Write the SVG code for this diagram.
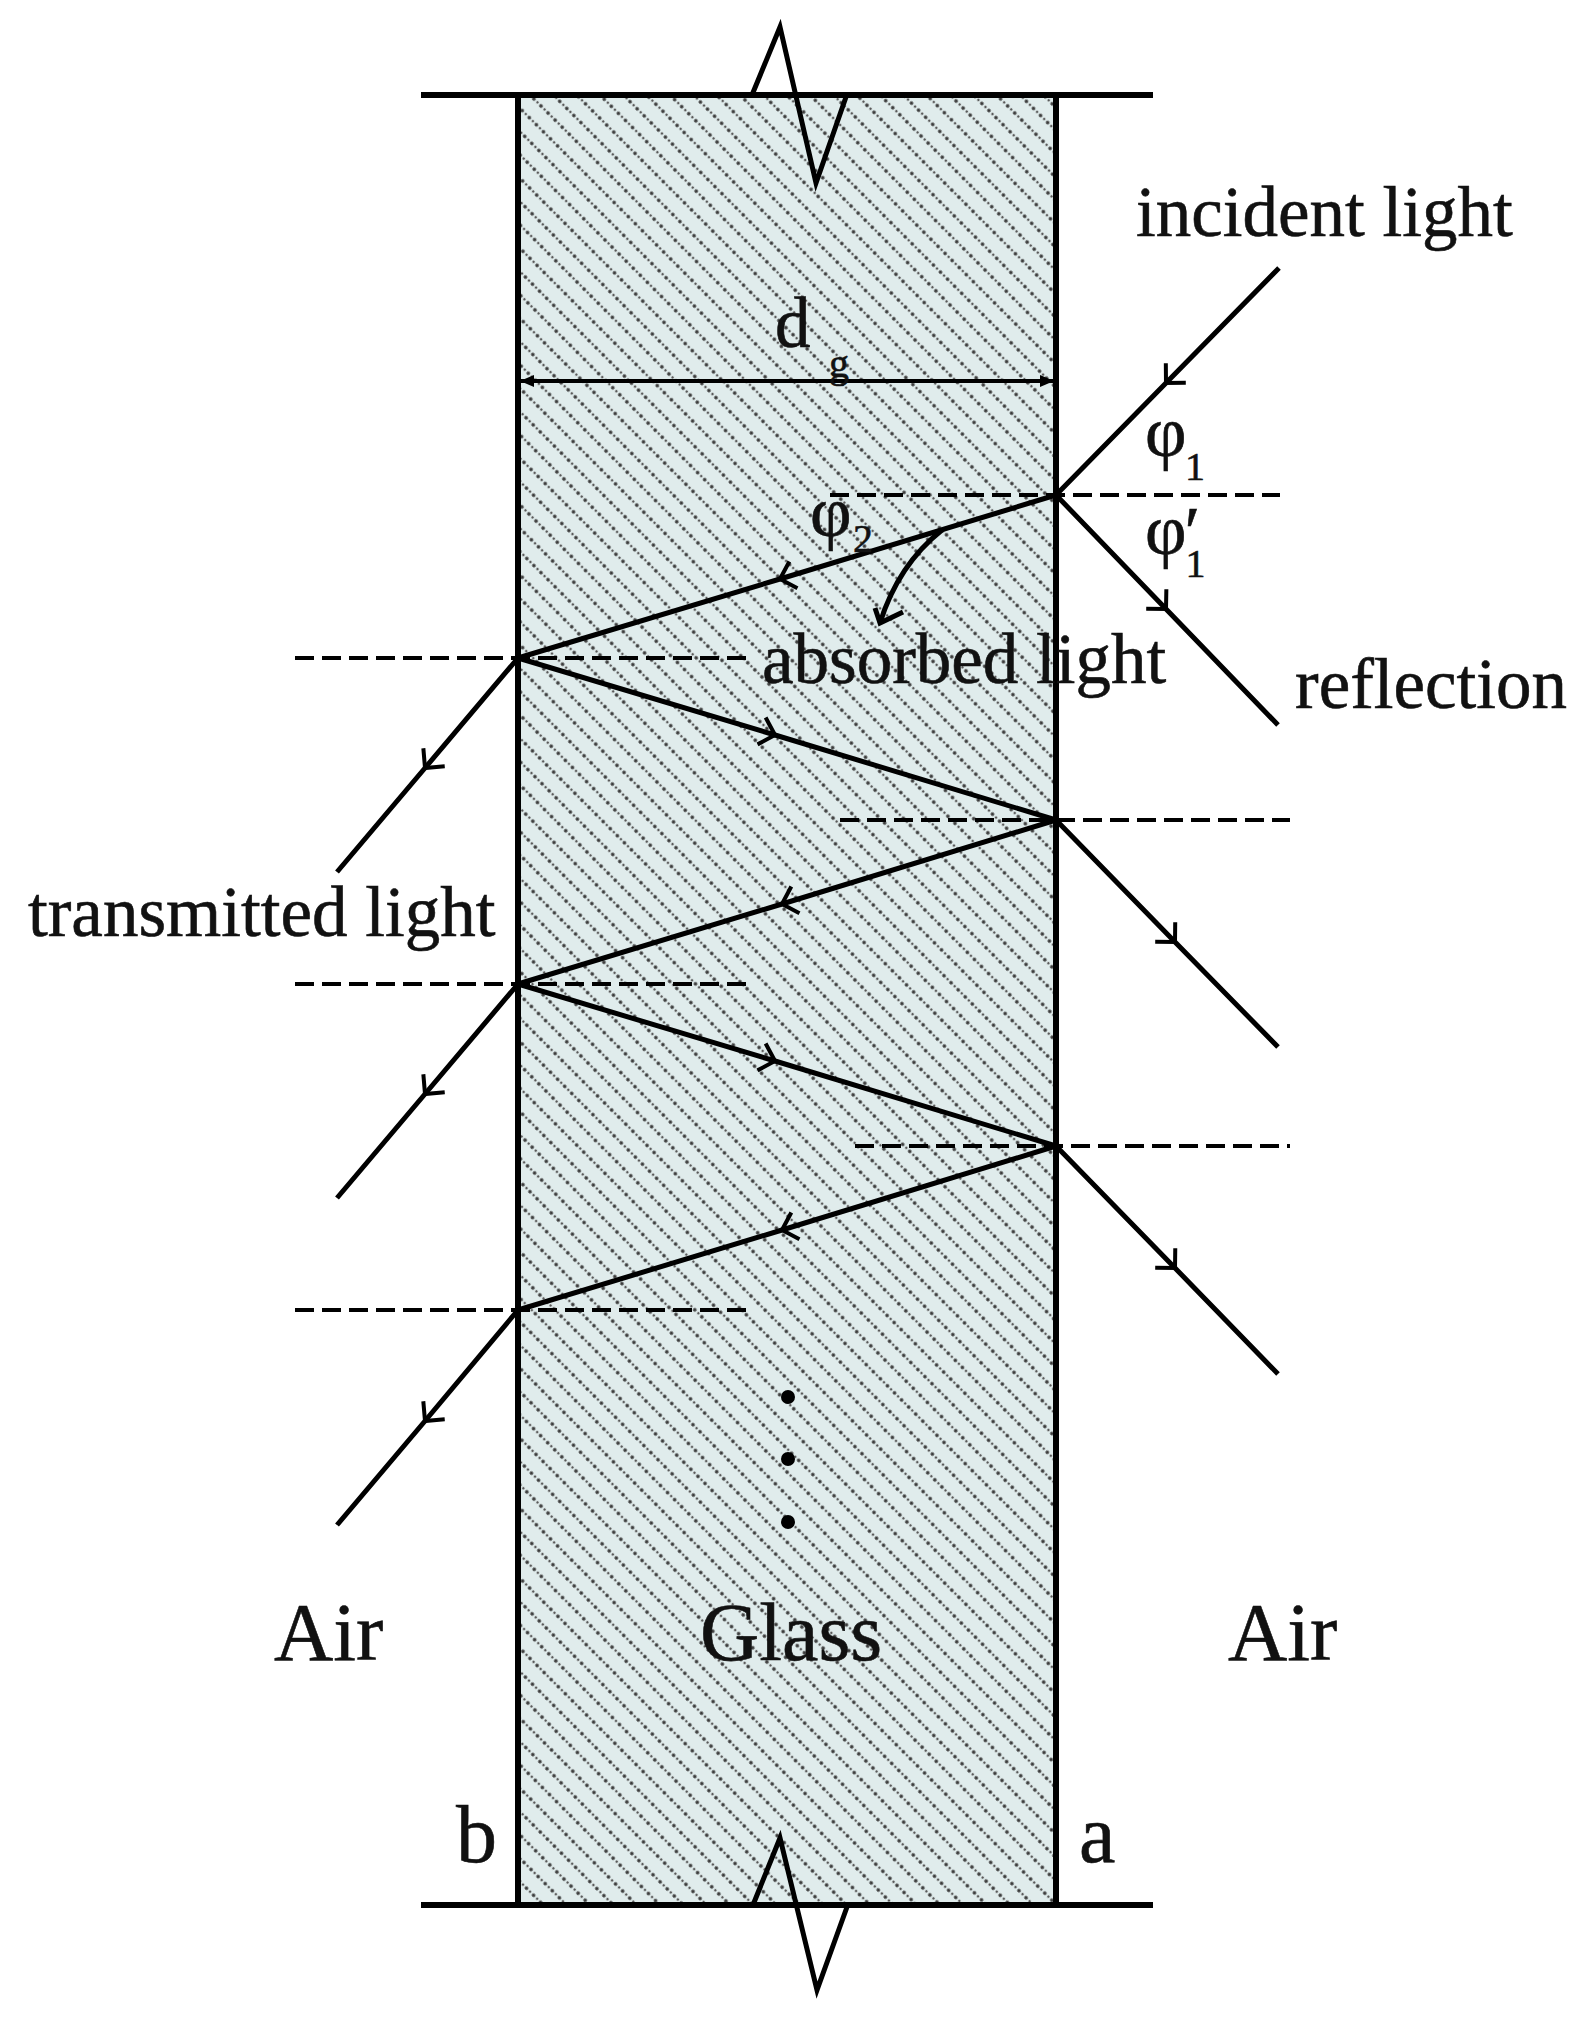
<svg xmlns="http://www.w3.org/2000/svg" width="1593" height="2019" viewBox="0 0 1593 2019">
<style>
.l{fill:none;stroke:#000;stroke-width:5}
.w{fill:none;stroke:#000;stroke-width:6}
.r{fill:none;stroke:#000;stroke-width:5;marker-mid:url(#v)}
.d{fill:none;stroke:#000;stroke-width:4;stroke-dasharray:19 8}
text{font-family:"Liberation Serif","Times New Roman",serif;fill:#111;stroke:#111;stroke-width:.6}
.t{font-size:71px}
.b{font-size:82px}
.s{font-size:40px}
.p{font-size:72px}
</style>
<defs>
<pattern id="h" width="10" height="16.5" patternUnits="userSpaceOnUse" patternTransform="rotate(45 518 95)">
<rect width="10" height="16.5" fill="#e0ecec"/>
<circle cx="2" cy="4" r="1.9" fill="#3c3c3c"/>
<circle cx="7" cy="4" r="1.3" fill="#5a5a5a"/>
</pattern>
<marker id="v" markerUnits="userSpaceOnUse" markerWidth="40" markerHeight="40" refX="20" refY="20" orient="auto" overflow="visible">
<path d="M6,6 L20,20 L6,34" fill="none" stroke="#000" stroke-width="4"/>
</marker>
<marker id="e" markerUnits="userSpaceOnUse" markerWidth="16" markerHeight="16" refX="14" refY="8" orient="auto-start-reverse">
<path d="M0,2 L14,8 L0,14 Z" fill="#000"/>
</marker>
</defs>
<g id="glass"><rect x="518" y="95" width="538" height="1810" fill="url(#h)"/></g>
<g id="connectors">
<path class="d" d="M830,495H1280M295,658H750M840,820H1290M295,984H750M855,1146H1290M295,1310H750"/>
<polyline class="r" points="1279,268 1166,383 1056,495"/>
<polyline class="r" points="1056,495 1166,609 1278,725"/>
<polyline class="r" points="1056,495 780,579 518,658"/>
<polyline class="r" points="518,658 775,735 1056,820"/>
<polyline class="r" points="1056,820 782,904 518,984"/>
<polyline class="r" points="518,984 775,1061 1056,1146"/>
<polyline class="r" points="1056,1146 782,1230 518,1310"/>
<polyline class="r" points="518,658 425,768 337,872"/>
<polyline class="r" points="518,984 425,1094 337,1198"/>
<polyline class="r" points="518,1310 425,1421 337,1525"/>
<polyline class="r" points="1056,820 1175,942 1278,1047"/>
<polyline class="r" points="1056,1146 1175,1268 1278,1374"/>
<path d="M942,530Q898,565 880,623" class="l"/>
<path d="M875,608L880,623L903,612" class="l"/>
<path d="M520,381H1054" fill="none" stroke="#000" stroke-width="4" marker-start="url(#e)" marker-end="url(#e)"/>
</g>
<g id="walls">
<path class="w" d="M421,95H1153M421,1905H1153M518,95V1905M1056,95V1905"/>
<path class="l" d="M752,95L780,27L816,183L846,97M753,1905L780,1838L817,1990L847,1907"/>
</g>
<g id="dots"><circle cx="788" cy="1397" r="7"/><circle cx="788" cy="1459" r="7"/><circle cx="788" cy="1522" r="7"/></g>
<g id="labels">
<text class="t" x="1136" y="236">incident light</text>
<text class="t" x="762" y="683">absorbed light</text>
<text class="t" x="1295" y="708">reflection</text>
<text class="t" x="28" y="936">transmitted light</text>
<text class="b" x="274" y="1660">Air</text>
<text class="b" x="700" y="1660">Glass</text>
<text class="b" x="1228" y="1660">Air</text>
<text class="b" x="456" y="1862">b</text>
<text class="b" x="1079" y="1862">a</text>
<text class="t" x="775" y="347">d</text>
<text class="s" x="829" y="377">g</text>
<text class="p" x="1145" y="456">φ</text>
<text class="s" x="1185" y="480">1</text>
<text class="p" x="1145" y="554">φ<tspan class="s" dx="-1" dy="23">1</tspan><tspan dx="-21" dy="-21">′</tspan></text>
<text class="p" x="810" y="536">φ</text>
<text class="s" x="853" y="552">2</text>
</g>
</svg>
